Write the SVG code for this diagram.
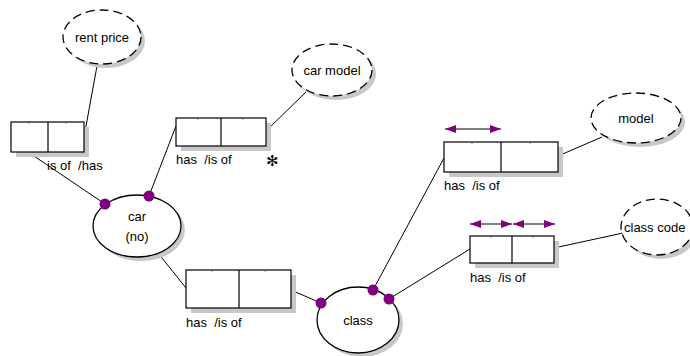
<svg xmlns="http://www.w3.org/2000/svg" width="690" height="356" viewBox="0 0 690 356">
<defs>
<marker id="ah" viewBox="0 0 11 8" refX="11" refY="4" markerWidth="11" markerHeight="8" markerUnits="userSpaceOnUse" orient="auto-start-reverse">
<path d="M0,0 L11,4 L0,8 Z" fill="#800080"/>
</marker>
</defs>
<style>
text{font-family:"Liberation Sans",Arial,sans-serif;font-size:13px;fill:#000;white-space:pre}
.c{text-anchor:middle}
.sh{fill:#c8c8c8;stroke:none}
.box{fill:#fff;stroke:#000;stroke-width:1.2}
.ent{fill:#fff;stroke:#000;stroke-width:1.3}
.val{fill:#fff;stroke:#000;stroke-width:1.3;stroke-dasharray:9,5}
.ln{stroke:#000;stroke-width:1;fill:none}
.dot{fill:#800080}
.arr{stroke:#000;stroke-width:1;marker-start:url(#ah);marker-end:url(#ah)}
.tk{stroke:#555;stroke-width:0.7}
</style>
<rect width="690" height="356" fill="#fff"/>

<g id="connectors">
<line class="ln" x1="97" y1="66" x2="84" y2="137"/>
<line class="ln" x1="28" y1="152" x2="105" y2="204"/>
<line class="ln" x1="306" y1="92" x2="266" y2="131"/>
<line class="ln" x1="176" y1="126" x2="149" y2="196"/>
<line class="ln" x1="158" y1="253" x2="186" y2="288"/>
<line class="ln" x1="291" y1="290" x2="321" y2="303"/>
<line class="ln" x1="444" y1="158" x2="373" y2="290"/>
<line class="ln" x1="558" y1="156" x2="602" y2="137"/>
<line class="ln" x1="470" y1="249" x2="389" y2="299"/>
<line class="ln" x1="554" y1="248" x2="623" y2="233"/>
</g>

<g id="rent-price">
<ellipse class="sh" cx="106" cy="41" rx="39" ry="27"/>
<ellipse class="val" cx="102" cy="37" rx="39" ry="27"/>
<text class="c" x="102" y="42">rent price</text>
</g>

<g id="car-model">
<ellipse class="sh" cx="336" cy="74" rx="40" ry="26"/>
<ellipse class="val" cx="332" cy="70" rx="40" ry="26"/>
<text class="c" x="332" y="75">car model</text>
</g>

<g id="model">
<ellipse class="sh" cx="640" cy="122" rx="45" ry="25"/>
<ellipse class="val" cx="636" cy="118" rx="45" ry="25"/>
<text class="c" x="636" y="123">model</text>
</g>

<g id="class-code">
<ellipse class="sh" cx="661" cy="231" rx="36" ry="28"/>
<ellipse class="val" cx="657" cy="227" rx="36" ry="28"/>
<text x="624" y="232">class code</text>
</g>

<g id="fact-rent">
<rect class="sh" x="16" y="127" width="73" height="30"/>
<rect class="box" x="11" y="122" width="73" height="30"/>
<line class="box" x1="48" y1="122" x2="48" y2="152"/>
<line class="tk" x1="29" y1="122" x2="29" y2="124"/>
<line class="tk" x1="66" y1="122" x2="66" y2="124"/>
<text x="47" y="170">is of  /has</text>
</g>

<g id="fact-carmodel">
<rect class="sh" x="181" y="123" width="90" height="28"/>
<rect class="box" x="176" y="118" width="90" height="28"/>
<line class="box" x1="221" y1="118" x2="221" y2="146"/>
<line class="tk" x1="198" y1="118" x2="198" y2="120"/>
<line class="tk" x1="243" y1="118" x2="243" y2="120"/>
<text x="176" y="164">has  /is of</text>
<text x="266" y="166" style="font-size:15px;font-family:'DejaVu Sans',sans-serif">✻</text>
</g>

<g id="car">
<ellipse class="sh" cx="141" cy="230" rx="44" ry="31"/>
<ellipse class="ent" cx="137" cy="226" rx="44" ry="31"/>
<text class="c" x="137" y="221">car</text>
<text class="c" x="137" y="241">(no)</text>
<circle class="dot" cx="105" cy="204" r="5.5"/>
<circle class="dot" cx="149" cy="196" r="5.5"/>
</g>

<g id="fact-carclass">
<rect class="sh" x="191" y="275" width="105" height="38"/>
<rect class="box" x="186" y="270" width="105" height="38"/>
<line class="box" x1="239" y1="270" x2="239" y2="308"/>
<line class="tk" x1="212" y1="270" x2="212" y2="272"/>
<line class="tk" x1="265" y1="270" x2="265" y2="272"/>
<text x="186" y="327">has  /is of</text>
</g>

<g id="class">
<ellipse class="sh" cx="362" cy="324" rx="41" ry="33"/>
<ellipse class="ent" cx="358" cy="320" rx="41" ry="33"/>
<text class="c" x="358" y="325">class</text>
<circle class="dot" cx="321" cy="303" r="5.5"/>
<circle class="dot" cx="373" cy="290" r="5.5"/>
<circle class="dot" cx="389" cy="299" r="5.5"/>
</g>

<g id="fact-model">
<rect class="sh" x="449" y="147" width="114" height="30"/>
<rect class="box" x="444" y="142" width="114" height="30"/>
<line class="box" x1="501" y1="142" x2="501" y2="172"/>
<line class="tk" x1="472" y1="142" x2="472" y2="144"/>
<line class="tk" x1="530" y1="142" x2="530" y2="144"/>
<line class="arr" x1="445" y1="129" x2="501" y2="129"/>
<text x="444" y="190">has  /is of</text>
</g>

<g id="fact-classcode">
<rect class="sh" x="475" y="241" width="84" height="27"/>
<rect class="box" x="470" y="236" width="84" height="27"/>
<line class="box" x1="512" y1="236" x2="512" y2="263"/>
<line class="tk" x1="491" y1="236" x2="491" y2="238"/>
<line class="tk" x1="533" y1="236" x2="533" y2="238"/>
<line class="arr" x1="470" y1="224" x2="512" y2="224"/>
<line class="arr" x1="513" y1="224" x2="555" y2="224"/>
<text x="470" y="282">has  /is of</text>
</g>
</svg>
